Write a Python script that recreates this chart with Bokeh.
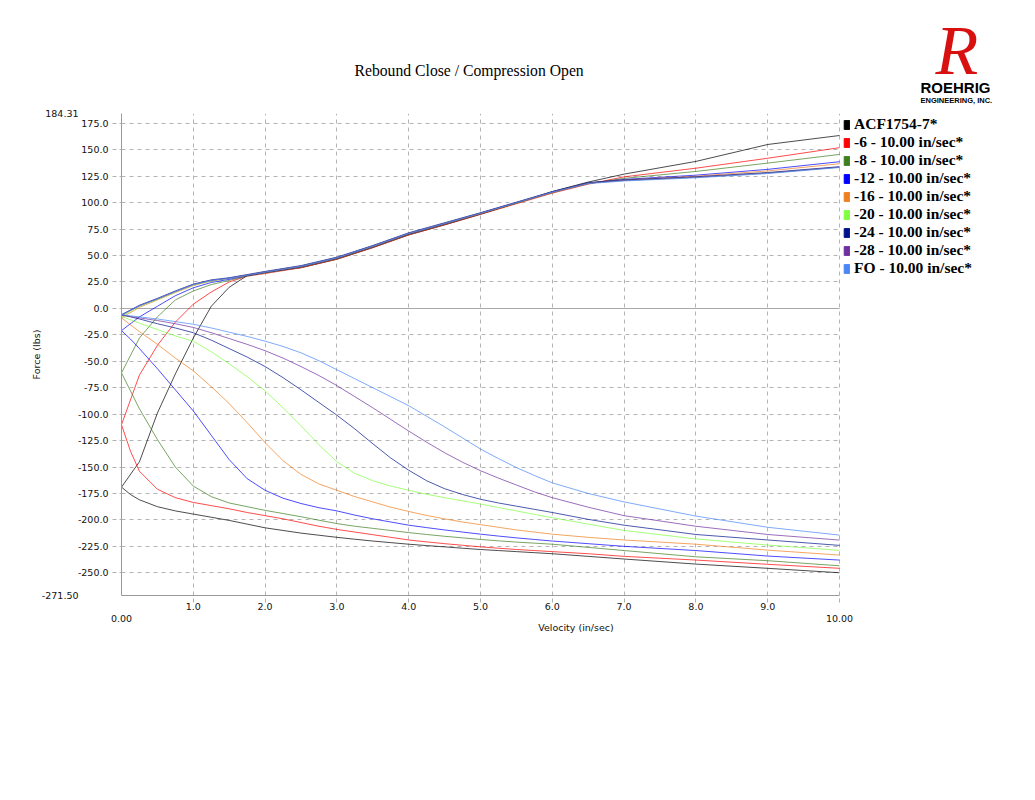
from bokeh.plotting import figure
from bokeh.models import (Range1d, FixedTicker, NumeralTickFormatter, Label, Grid,
                          Legend, LegendItem, LinearAxis)
from bokeh.embed import file_html
from bokeh.resources import INLINE

# ---------------- data ----------------
velocity_up = [0, 0.25, 0.5, 0.75, 1, 1.25, 1.5, 1.75, 2, 2.5, 3, 3.5, 4, 4.5, 5, 5.5, 6, 6.5, 7, 8, 9, 10]
velocity_lo = [0, 0.125, 0.25, 0.5, 0.75, 1, 1.25, 1.5, 1.75, 2, 2.25, 2.5, 2.75, 3, 3.25, 3.5,
               3.75, 4, 4.25, 4.5, 4.75, 5, 5.25, 5.5, 5.75, 6, 6.5, 7, 8, 9, 10]

series_names = ["ACF1754-7*", "-6 - 10.00 in/sec*", "-8 - 10.00 in/sec*", "-12 - 10.00 in/sec*",
                "-16 - 10.00 in/sec*", "-20 - 10.00 in/sec*", "-24 - 10.00 in/sec*",
                "-28 - 10.00 in/sec*", "FO - 10.00 in/sec*"]
series_colors = ["#000000", "#ff0000", "#3f7f1f", "#0000ff", "#f07f1f", "#80ff40",
                 "#00128c", "#7030a0", "#4a86f7"]

# rebound (upper) branches
up_acf = [-169, -145, -99, -62, -28, 2, 20, 31, 34, 38.5, 46.5, 57.5, 69.5, 79, 89, 99.5, 110.5, 119.5, 127, 139, 155, 163.5]
up_m6 = [-110, -63, -35, -13, 4, 15.5, 25, 30.5, 33, 38.5, 46.5, 57.5, 69.5, 79, 89, 99, 109, 117.5, 124.4, 132.6, 142, 152]
up_m8 = [-61, -28, -8, 8, 16.5, 22.5, 26.5, 30.5, 33.5, 39, 47, 58, 70, 79.5, 89.5, 99.5, 109.5, 118, 123, 129.5, 137.4, 145.6]
up_m12 = [-21, -8, 2, 12, 19.5, 24.5, 27.5, 31, 34, 39.5, 47.5, 58.5, 70.5, 80, 90, 100, 110, 118.5, 122, 126, 131.5, 138.7]
up_m16 = [-9, 1, 8, 15, 21.5, 26, 28.5, 31.5, 34.5, 40, 48, 59, 71, 80.5, 90, 100, 110, 118.5, 121.5, 125, 130, 136.8]
up_m20 = [-7.5, 2, 8.5, 15.5, 22, 26, 28.5, 31.5, 34.5, 40, 48, 59, 71, 80.5, 90, 100, 110, 118.5, 121, 124, 128, 133.6]
up_m24 = [-6, 3, 9.5, 16.5, 23, 27, 29, 32, 35, 40.5, 48.5, 59.5, 71.5, 81, 90.5, 100.5, 110.5, 119, 121.5, 124.5, 128.5, 134]
up_m28 = [-6.5, 2.5, 9, 16, 22.5, 26.5, 28.5, 31.5, 34.5, 40, 48, 59, 71, 80.5, 90, 100, 110, 118.5, 121, 124, 128, 133.6]
up_fo = [-6, 2.5, 9, 16, 22.5, 26.5, 28.5, 31.5, 34.5, 40, 48, 59, 71, 80.5, 90, 100, 110, 118, 120.5, 123.5, 127.5, 133.2]

# compression (lower) branches
lo_acf = [-169, -176, -181, -187.5, -191.5, -194.5, -197.5, -200.5, -204, -207.5, -210, -212.5, -214.5, -216.5, -218.3, -220,
          -221.5, -223, -224.3, -225.5, -226.8, -228, -229, -230, -231, -232, -234.5, -237, -241.8, -245.8, -250]
lo_m6 = [-110, -135, -154, -171, -179, -183.5, -186.5, -189.5, -193, -196, -199, -202.5, -206, -209, -211.5, -214,
         -216.5, -219, -220.8, -222.5, -224, -225.5, -226.8, -228, -229, -230, -232, -234.5, -238, -242, -245.8]
lo_m8 = [-61, -78, -95, -124, -150, -168, -178, -184, -187.5, -191, -194, -197, -200.3, -203.5, -206, -208,
         -210, -212, -213.8, -215.5, -217, -218.5, -219.8, -221, -222, -223, -226, -229, -234.9, -238.6, -243.4]
lo_m12 = [-21, -29, -38, -57, -77, -97, -120, -143, -161, -172, -179.5, -184.5, -188.5, -191.5, -195.5, -199,
          -202, -205, -207.3, -209.5, -211.5, -213.5, -215.3, -217, -218.5, -220, -222.5, -225, -229, -234.2, -238]
lo_m16 = [-9, -15.5, -22, -34, -47, -59, -74, -90, -108, -127, -144, -157, -166, -172, -178, -183,
          -188, -192, -195.8, -199, -202, -204.5, -207, -209.5, -211.5, -213.5, -216.5, -219, -223, -228.6, -233.3]
lo_m20 = [-7.5, -10.8, -14, -20, -26, -31, -41, -52.5, -64.5, -78, -94, -111, -129, -145, -156, -163,
          -168, -172, -175.8, -179, -182, -185, -188.3, -191.5, -194.8, -198, -204, -210, -218, -223.8, -228.8]
lo_m24 = [-6, -8, -10, -14.5, -18.5, -23, -30, -38, -46, -55, -65.5, -77, -89, -101, -114, -128,
          -141.5, -153, -163, -170.5, -176, -180.5, -184, -187, -190, -193, -199.5, -205, -213.8, -219, -224.1]
lo_m28 = [-6.5, -7.7, -9, -11.5, -14.5, -18, -23, -28.5, -34, -40, -47, -55, -63.5, -73, -83.5, -94,
          -105, -116, -126.5, -136.5, -145.5, -153.5, -160.5, -167, -173.5, -179, -188, -196, -206, -213.8, -219.1]
lo_fo = [-6, -7, -8, -10, -12.5, -15, -18.5, -22.5, -26.5, -31, -36, -42, -49.5, -58, -66.5, -75,
         -83.5, -92, -102, -112, -122.5, -133, -142, -150.5, -158, -165, -175, -183, -196.4, -207, -214.4]

uppers = [up_acf, up_m6, up_m8, up_m12, up_m16, up_m20, up_m24, up_m28, up_fo]
lowers = [lo_acf, lo_m6, lo_m8, lo_m12, lo_m16, lo_m20, lo_m24, lo_m28, lo_fo]

y_ticks = [-250, -225, -200, -175, -150, -125, -100, -75, -50, -25, 0, 25, 50, 75, 100, 125, 150, 175]
x_ticks = [1, 2, 3, 4, 5, 6, 7, 8, 9]
x_tick_labels = ["1.0", "2.0", "3.0", "4.0", "5.0", "6.0", "7.0", "8.0", "9.0"]
x_min, x_max = 0, 10
x_end_labels = ["0.00", "10.00"]
y_min, y_max = -271.50, 184.31
y_end_labels = ["-271.50", "184.31"]

# ---------------- figure ----------------
# plotting area (x 0..10) spans canvas px 121..839; the frame is widened to the
# canvas edge so the legend (drawn inside the frame) is not clipped.
FL, FR, FT, FB = 121, 839, 113, 595
W, H = 1030, 790
x_view_end = x_max * (W - FL) / (FR - FL)

p = figure(width=W, height=H, output_backend="svg", toolbar_location=None,
           x_range=Range1d(x_min, x_view_end), y_range=Range1d(y_min, y_max),
           min_border_left=FL, min_border_right=0, min_border_top=FT,
           min_border_bottom=H - FB, background_fill_color="white",
           border_fill_color="white")
p.outline_line_color = None

TICK_FONT = "DejaVu Sans"

def style_axis(ax):
    ax.axis_line_color = "#999999"
    ax.major_tick_line_color = "#b0b0b0"
    ax.major_tick_line_dash = "4 3"
    ax.major_tick_out = 9
    ax.major_tick_in = 0
    ax.minor_tick_line_color = None
    ax.major_label_text_font = TICK_FONT
    ax.major_label_text_font_size = "9.5px"
    ax.major_label_text_color = "#111111"
    ax.axis_label_text_font = TICK_FONT
    ax.axis_label_text_font_size = "9.5px"
    ax.axis_label_text_font_style = "normal"
    ax.axis_label_text_color = "#111111"

style_axis(p.xaxis[0])
style_axis(p.yaxis[0])

p.xaxis.ticker = FixedTicker(ticks=x_ticks + [x_max])
p.xaxis.bounds = (x_min, x_max)
p.xaxis.major_label_overrides = {**{t: l for t, l in zip(x_ticks, x_tick_labels)}, x_max: ""}
p.xaxis.major_tick_out = 7
p.xaxis.major_label_standoff = 0

# outer bottom axis: range end labels and axis title
xb = LinearAxis(ticker=FixedTicker(ticks=[x_min, x_max]), bounds=(x_min, x_max))
style_axis(xb)
xb.axis_line_color = None
xb.major_tick_line_color = None
xb.major_tick_out = 0
xb.major_label_standoff = 2
xb.major_label_overrides = {x_min: x_end_labels[0], x_max: x_end_labels[1]}
xb.axis_label = "Velocity (in/sec)"
xb.axis_label_standoff = -3
p.add_layout(xb, "below")

p.yaxis.ticker = FixedTicker(ticks=y_ticks)
p.yaxis.formatter = NumeralTickFormatter(format="0.0")
p.yaxis.major_label_standoff = 4

# outer left axis: range end labels and axis title
yl = LinearAxis(ticker=FixedTicker(ticks=[y_min, y_max]))
style_axis(yl)
yl.axis_line_color = None
yl.major_tick_line_color = None
yl.major_tick_out = 0
yl.major_label_standoff = -4
yl.major_label_overrides = {y_min: y_end_labels[0], y_max: y_end_labels[1]}
yl.axis_label = "Force (lbs)"
yl.axis_label_standoff = -3
p.add_layout(yl, "left")

for g in (p.xgrid[0], p.ygrid[0]):
    g.grid_line_color = "#b4b4b4"
    g.grid_line_dash = "4 4"
    g.grid_line_width = 1
p.xgrid.ticker = FixedTicker(ticks=x_ticks + [x_max])
p.xgrid.bounds = (x_min, x_max + 0.01)
p.ygrid.ticker = FixedTicker(ticks=y_ticks)
p.ygrid.cross_bounds = (x_min, x_max)

# solid zero line and dashed top line, limited to the plotting area
zero_grid = Grid(dimension=1, ticker=FixedTicker(ticks=[0]), cross_bounds=(x_min, x_max),
                 grid_line_color="#a8a8a8", grid_line_width=1)
top_grid = Grid(dimension=1, ticker=FixedTicker(ticks=[y_max]), cross_bounds=(x_min, x_max),
                grid_line_color="#c0c0c0", grid_line_width=1, grid_line_dash="4 4")
p.add_layout(zero_grid)
p.add_layout(top_grid)

# curves
for col, up, lo in zip(series_colors, uppers, lowers):
    p.line(velocity_up, up, line_color=col, line_width=1, line_alpha=0.7)
    p.line(velocity_lo, lo, line_color=col, line_width=1, line_alpha=0.7)

# legend swatches (quads with no drawable coordinates)
nan = float("nan")
items = []
for name, col in zip(series_names, series_colors):
    r = p.quad(left=[nan], right=[nan], top=[nan], bottom=[nan], fill_color=col, line_color=col)
    items.append(LegendItem(label=name, renderers=[r]))

LEG_ROW = 18
legend = Legend(items=items, location=(843 - FL, FB - (FT + len(items) * LEG_ROW + 2)))
legend.border_line_alpha = 0
legend.background_fill_alpha = 0
legend.padding = 0
legend.margin = 0
legend.spacing = 0
legend.glyph_width = 7
legend.glyph_height = 11
legend.label_height = LEG_ROW
legend.label_standoff = 4
legend.label_text_font = "Liberation Serif"
legend.label_text_font_style = "bold"
legend.label_text_font_size = "15.5px"
legend.label_text_color = "#000000"
p.add_layout(legend, "center")

# main title
p.title.text = "Rebound Close / Compression Open"
p.title.align = "left"
p.title.offset = 354 - FL
p.title.text_font = "Liberation Serif"
p.title.text_font_style = "normal"
p.title.text_font_size = "15.7px"
p.title.text_color = "#000000"
p.title.standoff = 70

# logo texts (side-panel labels, positioned in screen units)
logo_R = Label(x=935 - FL, y=717 - 55, x_units="screen", y_units="screen", text="R",
               text_font="Liberation Serif", text_font_style="italic", text_font_size="70px",
               text_color="#d81010", text_align="left", text_baseline="middle")
logo_name = Label(x=920 - FL, y=734 - 92, x_units="screen", y_units="screen", text="ROEHRIG",
                  text_font="Liberation Sans", text_font_style="bold", text_font_size="15px",
                  text_color="#000000", text_align="left", text_baseline="middle")
logo_sub = Label(x=920 - FL, y=743 - 105, x_units="screen", y_units="screen",
                 text="ENGINEERING, INC.", text_font="Liberation Sans", text_font_style="bold",
                 text_font_size="7.5px", text_color="#000000", text_align="left",
                 text_baseline="middle")
p.add_layout(logo_R, "below")
p.add_layout(logo_name, "below")
p.add_layout(logo_sub, "below")

open("out.html", "w").write(file_html(p, INLINE))
